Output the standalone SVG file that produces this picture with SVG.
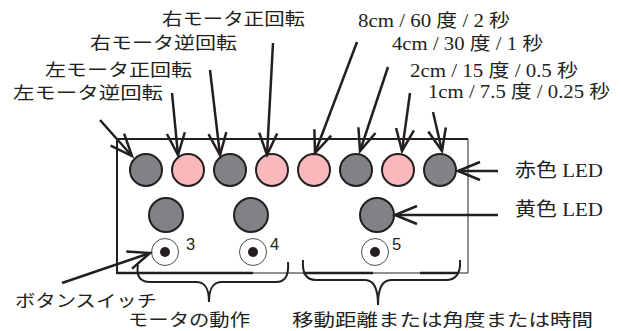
<svg xmlns="http://www.w3.org/2000/svg" width="621" height="331" viewBox="0 0 621 331">
<defs>
<style>
.jp{font-family:"Liberation Serif","Noto Sans CJK JP",serif;font-size:17px;fill:#231f20}
.mx{font-family:"Liberation Serif","Noto Sans CJK JP",serif;font-size:18.5px;fill:#231f20}
.num{font-family:"Liberation Sans",Arial,sans-serif;font-size:16.5px;fill:#231f20}
.red{fill:#f9b8bb;stroke:#231f20;stroke-width:2}
.gray{fill:#808285;stroke:#231f20;stroke-width:2}
.btn{fill:#fff;stroke:#231f20;stroke-width:0.8}
.dot{fill:#231f20}
.edge{stroke:#231f20;fill:none}
.arr{stroke:#231f20;stroke-width:2.5;fill:none;marker-end:url(#ah)}
.brace{stroke:#231f20;stroke-width:2;fill:none}
</style>
<marker id="ah" markerUnits="userSpaceOnUse" markerWidth="30" markerHeight="24" refX="24" refY="10" orient="auto" overflow="visible">
<path d="M2,1 L24,10 L2,19" fill="none" stroke="#231f20" stroke-width="2.5"/>
</marker>
</defs>
<rect width="621" height="331" fill="#fff"/>
<g id="board">
<line class="edge" x1="117" y1="139" x2="468" y2="139" stroke-width="2"/>
<line class="edge" x1="117" y1="138" x2="117" y2="274" stroke-width="2"/>
<line class="edge" x1="468" y1="139" x2="468" y2="273" stroke-width="1"/>
<line class="edge" x1="117" y1="273" x2="468" y2="273" stroke-width="1"/>
<line class="edge" x1="117" y1="273" x2="253" y2="273" stroke-width="2.5"/>
<line class="edge" x1="303" y1="273" x2="373" y2="273" stroke-width="2.5"/>
<line class="edge" x1="420" y1="273" x2="458" y2="273" stroke-width="2.5"/>
</g>
<g id="red-leds">
<circle class="gray" cx="146" cy="170" r="16"/>
<circle class="red" cx="188" cy="170" r="16"/>
<circle class="gray" cx="230" cy="170" r="16"/>
<circle class="red" cx="272" cy="170" r="16"/>
<circle class="red" cx="314" cy="170" r="16"/>
<circle class="gray" cx="356" cy="170" r="16"/>
<circle class="red" cx="398" cy="170" r="16"/>
<circle class="gray" cx="440" cy="170" r="16"/>
</g>
<g id="yellow-leds">
<circle class="gray" cx="166" cy="215" r="17"/>
<circle class="gray" cx="251" cy="215" r="17"/>
<circle class="gray" cx="377" cy="215" r="17"/>
</g>
<g id="buttons">
<circle class="btn" cx="165" cy="252" r="13.5"/><circle class="dot" cx="165" cy="252" r="5"/>
<text class="num" x="186" y="250">3</text>
<circle class="btn" cx="253" cy="252" r="13.5"/><circle class="dot" cx="253" cy="252" r="5"/>
<text class="num" x="270" y="250">4</text>
<circle class="btn" cx="375" cy="252" r="13.5"/><circle class="dot" cx="375" cy="252" r="5"/>
<text class="num" x="392" y="250">5</text>
</g>
<g id="connectors">
<line class="arr" x1="100" y1="120" x2="132" y2="156"/>
<line class="arr" x1="172" y1="93" x2="178" y2="155"/>
<line class="arr" x1="210" y1="70" x2="220" y2="155"/>
<line class="arr" x1="273" y1="43" x2="267" y2="155"/>
<line class="arr" x1="357" y1="42" x2="315" y2="153"/>
<line class="arr" x1="388" y1="67" x2="360" y2="151"/>
<line class="arr" x1="410" y1="93" x2="402" y2="151"/>
<line class="arr" x1="433" y1="112" x2="442" y2="151"/>
<line class="arr" x1="498" y1="171" x2="458" y2="171"/>
<line class="arr" x1="498" y1="215" x2="395" y2="215"/>
<line class="arr" x1="62" y1="283" x2="150" y2="253"/>
<path class="brace" d="M138,265 C136,276 140,282 150,282 L196,282 C205,282 209,288 209,302 C209,288 213,282 222,282 L276,282 C285,282 289,276 288,262"/>
<path class="brace" d="M303,260 C302,273 306,280 316,280 L365,280 C374,280 378,288 378,305 C378,288 382,280 391,280 L446,280 C456,280 461,273 460,260"/>
</g>
<g id="labels">
<text class="jp" x="162" y="25" textLength="143" lengthAdjust="spacingAndGlyphs">右モータ正回転</text>
<text class="jp" x="90" y="49" textLength="147" lengthAdjust="spacingAndGlyphs">右モータ逆回転</text>
<text class="jp" x="45" y="76" textLength="147" lengthAdjust="spacingAndGlyphs">左モータ正回転</text>
<text class="jp" x="13" y="99" textLength="150" lengthAdjust="spacingAndGlyphs">左モータ逆回転</text>
<text class="mx" x="358" y="27" textLength="152" lengthAdjust="spacingAndGlyphs">8cm / 60 度 / 2 秒</text>
<text class="mx" x="392" y="50" textLength="151" lengthAdjust="spacingAndGlyphs">4cm / 30 度 / 1 秒</text>
<text class="mx" x="410" y="77" textLength="168" lengthAdjust="spacingAndGlyphs">2cm / 15 度 / 0.5 秒</text>
<text class="mx" x="428" y="98" textLength="182" lengthAdjust="spacingAndGlyphs">1cm / 7.5 度 / 0.25 秒</text>
<text class="mx" x="515" y="177" textLength="88" lengthAdjust="spacingAndGlyphs" style="font-size:19px">赤色 LED</text>
<text class="mx" x="515" y="216" textLength="88" lengthAdjust="spacingAndGlyphs" style="font-size:19px">黄色 LED</text>
<text class="jp" x="15" y="307" textLength="142" lengthAdjust="spacingAndGlyphs">ボタンスイッチ</text>
<text class="jp" x="128" y="326" textLength="122" lengthAdjust="spacingAndGlyphs">モータの動作</text>
<text class="jp" x="292" y="326" textLength="301" lengthAdjust="spacingAndGlyphs">移動距離または角度または時間</text>
</g>
</svg>
